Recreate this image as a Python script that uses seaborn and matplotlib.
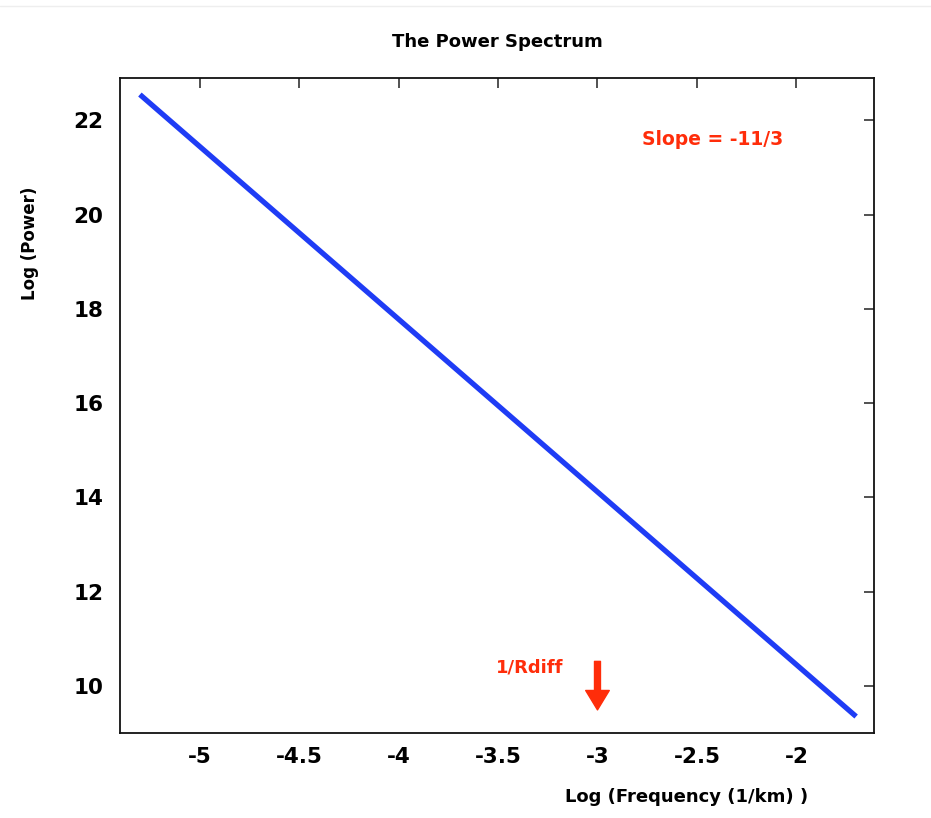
import matplotlib
matplotlib.use("Agg")
import matplotlib.pyplot as plt
import seaborn as sns
import pandas as pd
from matplotlib.lines import Line2D

# ---- data ----
log_freq = [-5.3, -1.7]
log_power = [22.55, 9.35]
x_ticks = [-5, -4.5, -4, -3.5, -3, -2.5, -2]
x_tick_labels = ["-5", "-4.5", "-4", "-3.5", "-3", "-2.5", "-2"]
y_ticks = [10, 12, 14, 16, 18, 20, 22]
y_tick_labels = ["10", "12", "14", "16", "18", "20", "22"]
slope_label = "Slope = -11/3"
rdiff_label = "1/Rdiff"
rdiff_x = -3.0
title = "The Power Spectrum"
xlabel = "Log (Frequency (1/km) )"
ylabel = "Log (Power)"

df = pd.DataFrame({"x": log_freq, "y": log_power})

sns.set_theme(style="white")
plt.rcParams['font.family'] = ['DejaVu Sans']

fig = plt.figure(figsize=(9.31, 8.18), dpi=100)
ax = fig.add_axes([0.1289, 0.1039, 0.8099, 0.8007])

sns.lineplot(data=df, x="x", y="y", ax=ax, color="#1f3cf5", linewidth=3.8,
             solid_capstyle="butt")

red = "#ff2d0a"
ax.text(-2.42, 21.60, slope_label, color=red, fontsize=13.5, fontweight="bold",
        ha="center", va="center")
ax.text(-3.34, 10.40, rdiff_label, color=red, fontsize=13, fontweight="bold",
        ha="center", va="center")
ax.annotate("", xy=(rdiff_x, 9.49), xytext=(rdiff_x, 10.52),
            arrowprops=dict(facecolor=red, edgecolor=red, width=4.3,
                            headwidth=17, headlength=14, shrink=0))

ax.set_xlim(-5.40, -1.61)
ax.set_ylim(9.0, 22.9)
ax.set_xticks(x_ticks)
ax.set_xticklabels(x_tick_labels)
ax.set_yticks(y_ticks)
ax.set_yticklabels(y_tick_labels)
ax.tick_params(direction="in", length=7, width=1.1, colors="#222222",
               top=True, right=True, labelsize=15.5, pad=12)
for lab in ax.get_xticklabels() + ax.get_yticklabels():
    lab.set_fontweight("bold")
    lab.set_color("black")
ax.tick_params(axis="x", pad=10)
for s in ax.spines.values():
    s.set_color("#111111")
    s.set_linewidth(1.3)

ax.set_title(title, fontsize=13, fontweight="bold", pad=22, color="black")
ax.set_xlabel(xlabel, fontsize=13, fontweight="bold", color="black")
ax.set_ylabel(ylabel, fontsize=12, fontweight="bold", color="black")
ax.xaxis.set_label_coords(0.752, -0.084)
ax.yaxis.set_label_coords(-0.108, 0.748)
ax.grid(False)

fig.add_artist(Line2D([0, 1], [1 - 6 / 818, 1 - 6 / 818], color="#eeeeee",
                      linewidth=1, transform=fig.transFigure))

fig.savefig("out.png", dpi=100, facecolor="white")
